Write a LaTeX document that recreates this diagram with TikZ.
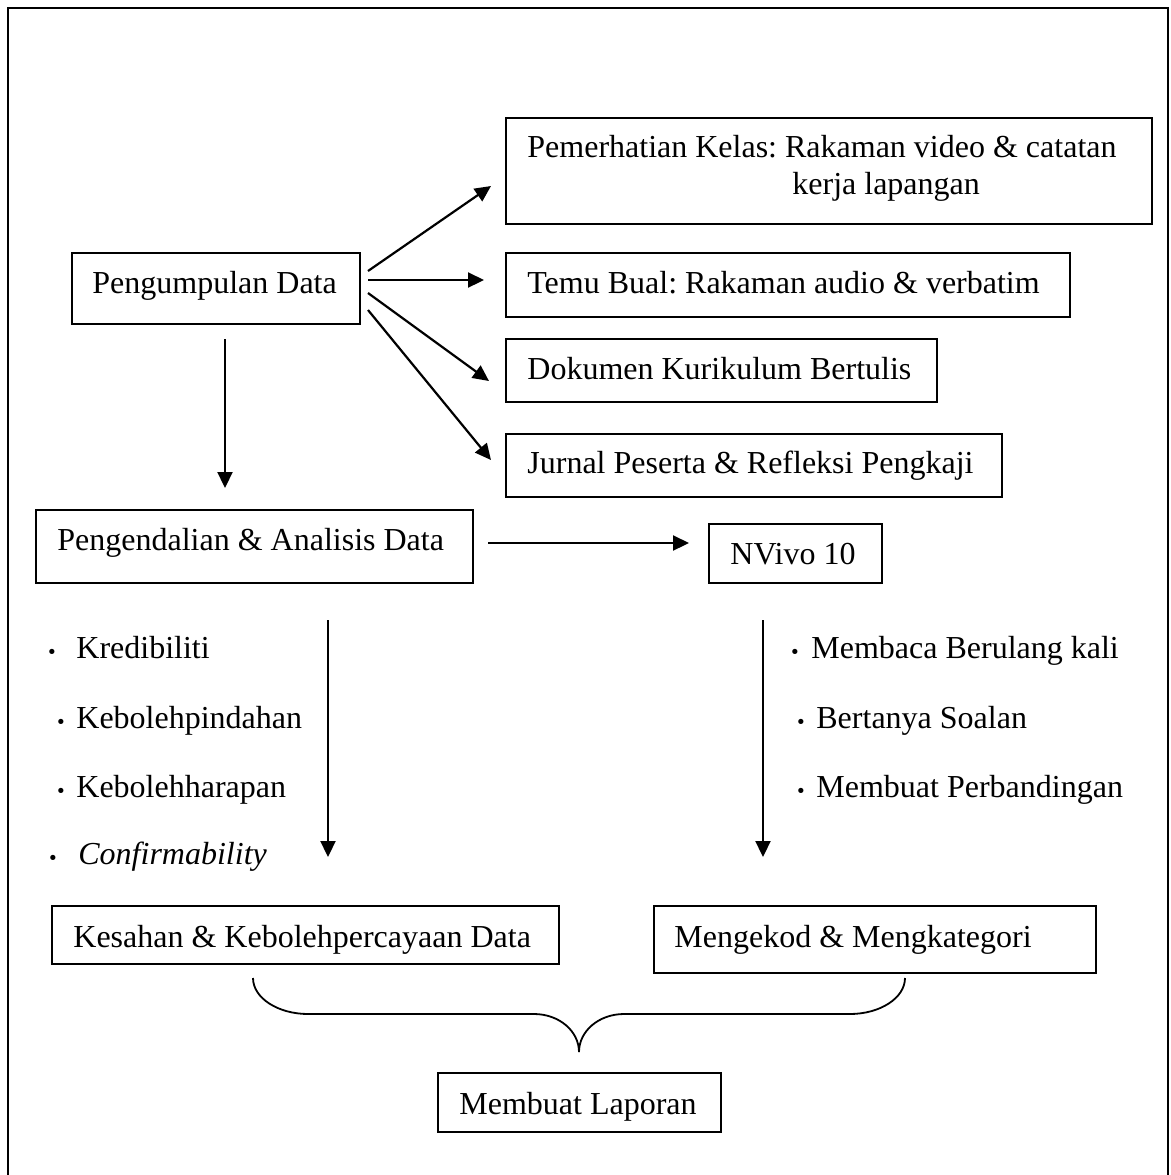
\documentclass[tikz,border=0pt]{standalone}
\usepackage{fontspec}
\setmainfont{Liberation Serif}
\usetikzlibrary{arrows.meta,fit}
\newcommand{\bdot}{\raisebox{-2pt}{\textbf{·}}}
\begin{document}
\frenchspacing
\begin{tikzpicture}[x=0.5pt,y=-0.5pt,
  box/.style={draw,line width=1pt,inner sep=0pt},
  txt/.style={inner sep=0pt,anchor=base west,font=\fontsize{16pt}{18.5pt}\selectfont},
  arr/.style={line width=1.1pt,-{Triangle[length=8pt,width=7.5pt]}},
  bracepath/.style={line width=0.9pt}]
\useasboundingbox (0,0) rectangle (1171,1175);
% outer frame
\draw[line width=1pt] (8,1185) -- (8,8) -- (1168,8) -- (1168,1185);

% boxes
\node[box,fit={(506,118)(1152,224)}] (pem) {};
\node[box,fit={(72,253)(360,324)}] (peng) {};
\node[box,fit={(506,253)(1070,317)}] (temu) {};
\node[box,fit={(506,339)(937,402)}] (dok) {};
\node[box,fit={(506,434)(1002,497)}] (jur) {};
\node[box,fit={(36,510)(473,583)}] (pend) {};
\node[box,fit={(709,524)(882,583)}] (nv) {};
\node[box,fit={(52,906)(559,964)}] (kes) {};
\node[box,fit={(654,906)(1096,973)}] (mek) {};
\node[box,fit={(438,1073)(721,1132)}] (lap) {};

% texts
\node[txt] (tpem1) at (527,157) {Pemerhatian Kelas: Rakaman video \& catatan};
\node[txt] (tpem2) at (792,194) {kerja lapangan};
\node[txt] (tpeng) at (92,293) {Pengumpulan Data};
\node[txt] (ttemu) at (527,293) {Temu Bual: Rakaman audio \& verbatim};
\node[txt] (tdok) at (527,379) {Dokumen Kurikulum Bertulis};
\node[txt] (tjur) at (527,473) {Jurnal Peserta \& Refleksi Pengkaji};
\node[txt] (tpend) at (57,550) {Pengendalian \& Analisis Data};
\node[txt] (tnv) at (730,564) {NVivo 10};
\node[txt] (tkes) at (73,947) {Kesahan \& Kebolehpercayaan Data};
\node[txt] (tmek) at (674,947) {Mengekod \& Mengkategori};
\node[txt] (tlap) at (459,1114) {Membuat Laporan};

% bullet lists
\node[txt] (b1) at (76,658) {\llap{\bdot\hspace{9.5pt}}Kredibiliti};
\node[txt] (b2) at (76,728) {\llap{\bdot\hspace{5pt}}Kebolehpindahan};
\node[txt] (b3) at (76,797) {\llap{\bdot\hspace{5pt}}Kebolehharapan};
\node[txt] (b4) at (78,864) {\llap{\bdot\hspace{10pt}}\textit{Confirmability}};
\node[txt] (c1) at (811,658) {\llap{\bdot\hspace{5.5pt}}Membaca Berulang kali};
\node[txt] (c2) at (816,728) {\llap{\bdot\hspace{5pt}}Bertanya Soalan};
\node[txt] (c3) at (816,797) {\llap{\bdot\hspace{5pt}}Membuat Perbandingan};

% arrow end points
\coordinate (a1s) at (368,271); \coordinate (a1e) at (491,186);
\coordinate (a2s) at (368,280); \coordinate (a2e) at (484,280);
\coordinate (a3s) at (368,293); \coordinate (a3e) at (489,381);
\coordinate (a4s) at (368,310); \coordinate (a4e) at (491,460);
\coordinate (a5s) at (225,339); \coordinate (a5e) at (225,488);
\coordinate (a6s) at (488,543); \coordinate (a6e) at (689,543);
\coordinate (a7s) at (328,620); \coordinate (a7e) at (328,857);
\coordinate (a8s) at (763,620); \coordinate (a8e) at (763,857);

\draw[arr] (a1s) -- (a1e);
\draw[arr] (a2s) -- (a2e);
\draw[arr] (a3s) -- (a3e);
\draw[arr] (a4s) -- (a4e);
\draw[arr] (a5s) -- (a5e);
\draw[arr] (a6s) -- (a6e);
\draw[arr] (a7s) -- (a7e);
\draw[arr] (a8s) -- (a8e);

% brace
\coordinate (brl) at (253,978);
\coordinate (brr) at (905,978);
\coordinate (brt) at (579,1052);
\draw[bracepath] (brl) .. controls (253,998) and (278,1014) .. (308,1014)
  -- (534,1014) .. controls (559,1014) and (579,1031) .. (brt);
\draw[bracepath] (brr) .. controls (905,998) and (880,1014) .. (850,1014)
  -- (624,1014) .. controls (599,1014) and (579,1031) .. (brt);
\end{tikzpicture}
\end{document}
